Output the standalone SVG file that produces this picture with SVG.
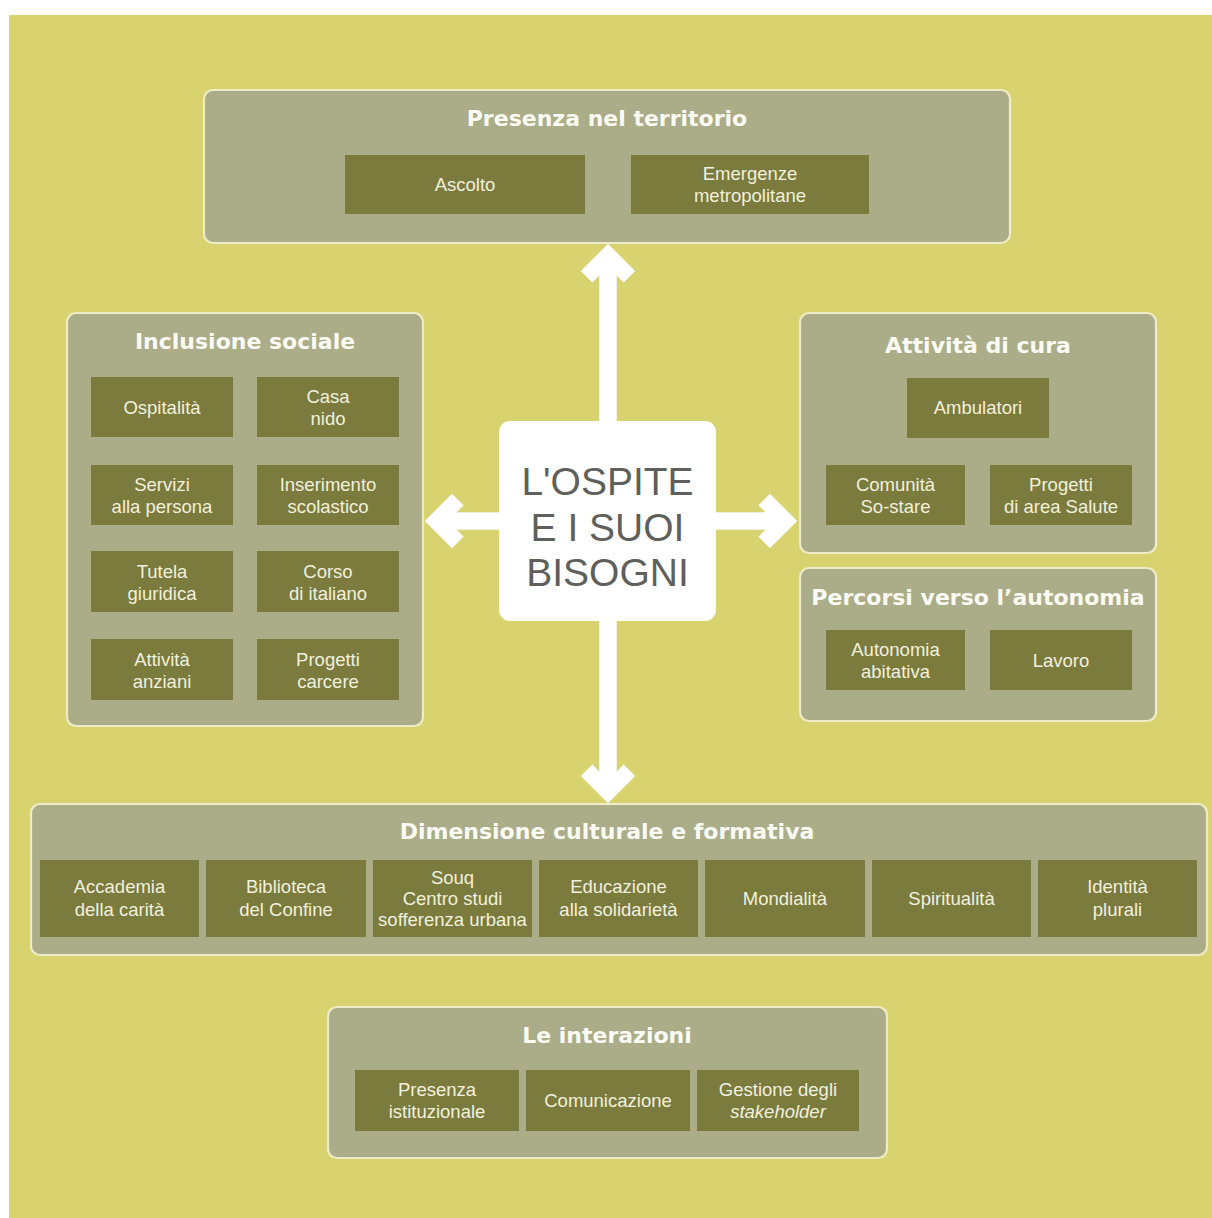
<svg xmlns="http://www.w3.org/2000/svg" width="1212" height="1218" viewBox="0 0 1212 1218">
<style>
.panel{fill:#ABAD89;stroke:#EEECC6;stroke-width:2.2}
.box{fill:#7A7B3D}
.title{font-family:"DejaVu Sans",Verdana,sans-serif;font-weight:bold;font-size:22px;fill:#FBFBF4;text-anchor:middle}
.lbl{font-family:"Liberation Sans",Arial,sans-serif;font-size:18.5px;fill:#F2F0DE;text-anchor:middle}
.center{font-family:"Liberation Sans",Arial,sans-serif;font-size:39px;fill:#5F5F5B;text-anchor:middle}
.arrow{fill:#FFFFFF;stroke:#F2F2EC;stroke-width:0.8}
</style>
<rect x="0" y="0" width="1212" height="1218" fill="#FFFFFF"/>
<rect x="9" y="15" width="1203" height="1203" fill="#D8D36F"/>

<g id="connectors">
<polygon class="arrow" points="608,244 635,271 623.7,282.3 616.5,275.1 616.5,425 599.5,425 599.5,275.1 592.3,282.3 581,271"/>
<polygon class="arrow" points="608,803 635,776 623.7,764.7 616.5,771.9 616.5,617 599.5,617 599.5,771.9 592.3,764.7 581,776"/>
<polygon class="arrow" points="425,521 452,494 463.3,505.3 456.1,512.5 503,512.5 503,529.5 456.1,529.5 463.3,536.7 452,548"/>
<polygon class="arrow" points="797,521 770,494 758.7,505.3 765.9,512.5 712,512.5 712,529.5 765.9,529.5 758.7,536.7 770,548"/>
</g>

<g id="center-node">
<rect x="499" y="421" width="217" height="200" rx="11" fill="#FFFFFF"/>
<text class="center" x="607.5" y="495">L'OSPITE</text>
<text class="center" x="607.5" y="541">E I SUOI</text>
<text class="center" x="607.5" y="586">BISOGNI</text>
</g>

<g id="presenza-territorio">
<rect class="panel" x="204" y="90" width="806" height="153" rx="9"/>
<text class="title" x="607" y="126">Presenza nel territorio</text>
<rect class="box" x="345" y="155" width="240" height="59"/>
<text class="lbl" x="465" y="191">Ascolto</text>
<rect class="box" x="631" y="155" width="238" height="59"/>
<text class="lbl" x="750" y="180">Emergenze</text>
<text class="lbl" x="750" y="202">metropolitane</text>
</g>

<g id="inclusione-sociale">
<rect class="panel" x="67" y="313" width="356" height="413" rx="9"/>
<text class="title" x="245" y="349">Inclusione sociale</text>
<rect class="box" x="91" y="377" width="142" height="60"/>
<text class="lbl" x="162" y="414">Ospitalità</text>
<rect class="box" x="257" y="377" width="142" height="60"/>
<text class="lbl" x="328" y="403">Casa</text>
<text class="lbl" x="328" y="425">nido</text>
<rect class="box" x="91" y="465" width="142" height="60"/>
<text class="lbl" x="162" y="491">Servizi</text>
<text class="lbl" x="162" y="513">alla persona</text>
<rect class="box" x="257" y="465" width="142" height="60"/>
<text class="lbl" x="328" y="491">Inserimento</text>
<text class="lbl" x="328" y="513">scolastico</text>
<rect class="box" x="91" y="551" width="142" height="61"/>
<text class="lbl" x="162" y="578">Tutela</text>
<text class="lbl" x="162" y="600">giuridica</text>
<rect class="box" x="257" y="551" width="142" height="61"/>
<text class="lbl" x="328" y="578">Corso</text>
<text class="lbl" x="328" y="600">di italiano</text>
<rect class="box" x="91" y="639" width="142" height="61"/>
<text class="lbl" x="162" y="666">Attività</text>
<text class="lbl" x="162" y="688">anziani</text>
<rect class="box" x="257" y="639" width="142" height="61"/>
<text class="lbl" x="328" y="666">Progetti</text>
<text class="lbl" x="328" y="688">carcere</text>
</g>

<g id="attivita-cura">
<rect class="panel" x="800" y="313" width="356" height="240" rx="9"/>
<text class="title" x="978" y="353">Attività di cura</text>
<rect class="box" x="907" y="378" width="142" height="60"/>
<text class="lbl" x="978" y="414">Ambulatori</text>
<rect class="box" x="826" y="465" width="139" height="60"/>
<text class="lbl" x="895.5" y="491">Comunità</text>
<text class="lbl" x="895.5" y="513">So-stare</text>
<rect class="box" x="990" y="465" width="142" height="60"/>
<text class="lbl" x="1061" y="491">Progetti</text>
<text class="lbl" x="1061" y="513">di area Salute</text>
</g>

<g id="percorsi-autonomia">
<rect class="panel" x="800" y="568" width="356" height="153" rx="9"/>
<text class="title" x="978" y="605">Percorsi verso l’autonomia</text>
<rect class="box" x="826" y="630" width="139" height="60"/>
<text class="lbl" x="895.5" y="656">Autonomia</text>
<text class="lbl" x="895.5" y="678">abitativa</text>
<rect class="box" x="990" y="630" width="142" height="60"/>
<text class="lbl" x="1061" y="667">Lavoro</text>
</g>

<g id="dimensione-culturale">
<rect class="panel" x="31" y="804" width="1176" height="151" rx="9"/>
<text class="title" x="607" y="839">Dimensione culturale e formativa</text>
<rect class="box" x="40" y="860" width="159" height="77"/>
<text class="lbl" x="119.5" y="893">Accademia</text>
<text class="lbl" x="119.5" y="916">della carità</text>
<rect class="box" x="206" y="860" width="160" height="77"/>
<text class="lbl" x="286" y="893">Biblioteca</text>
<text class="lbl" x="286" y="916">del Confine</text>
<rect class="box" x="373" y="860" width="159" height="77"/>
<text class="lbl" x="452.5" y="884">Souq</text>
<text class="lbl" x="452.5" y="905">Centro studi</text>
<text class="lbl" x="452.5" y="926" font-size="18">sofferenza urbana</text>
<rect class="box" x="539" y="860" width="159" height="77"/>
<text class="lbl" x="618.5" y="893">Educazione</text>
<text class="lbl" x="618.5" y="916">alla solidarietà</text>
<rect class="box" x="705" y="860" width="160" height="77"/>
<text class="lbl" x="785" y="905">Mondialità</text>
<rect class="box" x="872" y="860" width="159" height="77"/>
<text class="lbl" x="951.5" y="905">Spiritualità</text>
<rect class="box" x="1038" y="860" width="159" height="77"/>
<text class="lbl" x="1117.5" y="893">Identità</text>
<text class="lbl" x="1117.5" y="916">plurali</text>
</g>

<g id="interazioni">
<rect class="panel" x="328" y="1007" width="559" height="151" rx="9"/>
<text class="title" x="607" y="1043">Le interazioni</text>
<rect class="box" x="355" y="1070" width="164" height="61"/>
<text class="lbl" x="437" y="1096">Presenza</text>
<text class="lbl" x="437" y="1118">istituzionale</text>
<rect class="box" x="526" y="1070" width="164" height="61"/>
<text class="lbl" x="608" y="1107">Comunicazione</text>
<rect class="box" x="697" y="1070" width="162" height="61"/>
<text class="lbl" x="778" y="1096">Gestione degli</text>
<text class="lbl" x="778" y="1118" font-style="italic">stakeholder</text>
</g>
</svg>
